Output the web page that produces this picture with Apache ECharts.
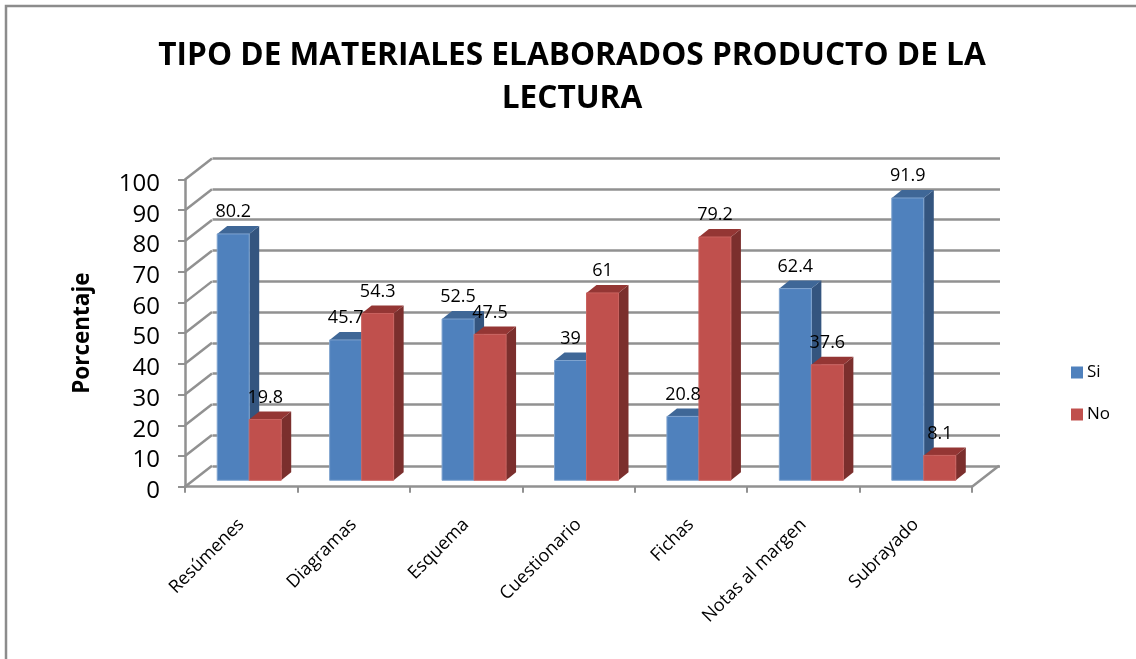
<!DOCTYPE html>
<html><head><meta charset="utf-8">
<style>html,body{margin:0;padding:0;background:#fff}#c{width:1136px;height:659px}</style>
<script src="https://cdn.jsdelivr.net/npm/echarts@6/dist/echarts.min.js"></script>
</head><body><div id="c"></div>
<script>
const categories = ['Resúmenes','Diagramas','Esquema','Cuestionario','Fichas','Notas al margen','Subrayado'];
const si = [80.2,45.7,52.5,39,20.8,62.4,91.9];
const no = [19.8,54.3,47.5,61,79.2,37.6,8.1];
const yTicks = [0,10,20,30,40,50,60,70,80,90,100];
const titleLines = 'TIPO DE MATERIALES ELABORADOS PRODUCTO DE LA\nLECTURA';

const FONT = '"Open Sans"';
const GRID = '#919191';
const WALL = {dx:27, dy:-21};
const PLANE = {dx:8, dy:-6.4};
const DEPTH = {dx:10, dy:-8};
const BAR_W = 32;

function barRenderer(slot, front, side, top, edge) {
  return function (params, api) {
    const i = api.value(0), v = api.value(1);
    const base = api.coord([i, 0]), head = api.coord([i, v]);
    const x0 = base[0] + PLANE.dx + (slot === 0 ? -BAR_W : 0);
    const x1 = x0 + BAR_W;
    const yb = base[1] + PLANE.dy, yt = head[1] + PLANE.dy;
    const d = DEPTH;
    return {type:'group', children:[
      {type:'polygon', shape:{points:[[x1,yb],[x1+d.dx,yb+d.dy],[x1+d.dx,yt+d.dy],[x1,yt]]}, style:{fill:side}},
      {type:'polygon', shape:{points:[[x0,yt],[x1,yt],[x1+d.dx,yt+d.dy],[x0+d.dx,yt+d.dy]]}, style:{fill:top}},
      {type:'rect', shape:{x:x0,y:yt,width:BAR_W,height:yb-yt}, style:{fill:front, stroke:edge, lineWidth:1}},
      {type:'text', z2:100, style:{x:(x0+x1)/2, y:yt-22, text:String(v), fill:'#000', font:'18px '+FONT, align:'center', verticalAlign:'middle'}}
    ]};
  };
}

function wallRenderer(params, api) {
  const v = api.value(0);
  const band = api.size([1,0])[0];
  const p = api.coord([0, v]);
  const x = p[0] - band/2, y = p[1];
  const kids = [{type:'line', shape:{x1:x,y1:y,x2:x+WALL.dx,y2:y+WALL.dy}, style:{stroke:GRID,lineWidth:2.5}}];
  if (v === 0) {
    const xr = x + band*categories.length;
    kids.push({type:'line', shape:{x1:xr,y1:y,x2:xr+WALL.dx,y2:y+WALL.dy}, style:{stroke:GRID,lineWidth:2.5}});
  }
  return {type:'group', children:kids};
}

const chart = echarts.init(document.getElementById('c'), null, {renderer:'canvas'});
chart.setOption({
  animation:false,
  backgroundColor:'#fff',
  graphic:[{type:'rect', silent:true, z:-1, shape:{x:6,y:6,width:1300,height:800}, style:{fill:'none',stroke:'#8c8c8c',lineWidth:2.5}}],
  title:{text:titleLines, left:567, top:29, textAlign:'center',
    textStyle:{fontFamily:FONT,fontWeight:'bold',fontSize:31.6,color:'#000',lineHeight:43}},
  legend:{orient:'vertical', left:1066, top:359, itemWidth:12, itemHeight:12, itemGap:25,
    textStyle:{fontFamily:FONT,fontSize:17,color:'#000',padding:[0,0,0,-1]},
    data:[{name:'Si',icon:'rect',itemStyle:{color:'#4f81bd'}},{name:'No',icon:'rect',itemStyle:{color:'#c0504d'}}]},
  grid:[
    {left:185, width:787, top:179.5, height:307.2},
    {left:212.5, width:787.5, top:158, height:308}
  ],
  xAxis:[
    {type:'category', gridIndex:0, data:categories, boundaryGap:true,
      axisLine:{show:true,lineStyle:{color:GRID,width:2.5}},
      axisTick:{show:true,length:6,alignWithLabel:false,lineStyle:{color:GRID,width:2}},
      axisLabel:{rotate:45,interval:0,margin:35,fontFamily:FONT,fontSize:18,color:'#000'}},
    {type:'value', gridIndex:1, min:0, max:1, show:false}
  ],
  yAxis:[
    {type:'value', gridIndex:0, min:0, max:100, interval:10,
      name:'Porcentaje', nameLocation:'middle', nameGap:91, nameRotate:90,
      nameTextStyle:{fontFamily:FONT,fontWeight:'bold',fontSize:22.5,color:'#000'},
      axisLine:{show:true,lineStyle:{color:GRID,width:2.5}},
      axisTick:{show:true,length:7,lineStyle:{color:GRID,width:2}},
      axisLabel:{margin:25,verticalAlign:'top',lineHeight:9,fontFamily:FONT,fontSize:24,color:'#000'},
      splitLine:{show:false}},
    {type:'value', gridIndex:1, min:0, max:100, interval:10,
      axisLine:{show:false}, axisTick:{show:false}, axisLabel:{show:false},
      splitLine:{show:true,lineStyle:{color:GRID,width:2.5}}}
  ],
  series:[
    {type:'custom', name:'wall', xAxisIndex:0, yAxisIndex:0, silent:true, clip:false, z:1,
      data:yTicks.map(v=>[v]), encode:{y:0}, renderItem:wallRenderer},
    {type:'custom', name:'Si', xAxisIndex:0, yAxisIndex:0, clip:false, z:3, itemStyle:{color:'#4f81bd'},
      data:si.map((v,i)=>[i,v]), encode:{x:0,y:1}, renderItem:barRenderer(0,'#4f81bd','#34557f','#3f6797','#7fa3cf')},
    {type:'custom', name:'No', xAxisIndex:0, yAxisIndex:0, clip:false, z:3, itemStyle:{color:'#c0504d'},
      data:no.map((v,i)=>[i,v]), encode:{x:0,y:1}, renderItem:barRenderer(1,'#c0504d','#7b2f2d','#943634','#c9625f')}
  ]
});
</script></body></html>
